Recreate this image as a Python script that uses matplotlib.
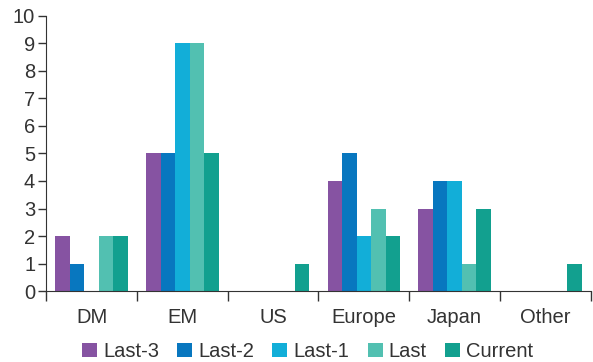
import numpy as np
import matplotlib.pyplot as plt

categories = ["DM", "EM", "US", "Europe", "Japan", "Other"]
series = ["Last-3", "Last-2", "Last-1", "Last", "Current"]
last_3 = [2, 5, 0, 4, 3, 0]
last_2 = [1, 5, 0, 5, 4, 0]
last_1 = [0, 9, 0, 2, 4, 0]
last = [2, 9, 0, 3, 1, 0]
current = [2, 5, 1, 2, 3, 1]
colores = ["#8653A2", "#0877BF", "#12AED8", "#52C0B1", "#12A08F"]

plt.rcParams['font.family'] = ['Liberation Sans', 'DejaVu Sans']
texto = "#333333"

fig = plt.figure(figsize=(5.93, 3.62), dpi=100)
ax = fig.add_axes([0.078, 0.196, 0.918, 0.76])

x = np.arange(len(categories))
ancho = 0.8 / len(series)
valores = [last_3, last_2, last_1, last, current]
for i, (nombre, v) in enumerate(zip(series, valores)):
    ax.bar(x - 0.4 + ancho * (i + 0.5), v, ancho, color=colores[i], label=nombre)

ax.set_xlim(-0.5, len(categories) - 0.5)
ax.set_ylim(0, 10)
ax.set_yticks(range(0, 11))
ax.set_xticks(x)
ax.set_xticklabels(categories)
ax.set_xticks(np.arange(-0.5, len(categories)), minor=True)
ax.tick_params(axis='x', which='major', length=0, pad=12, labelsize=14.5, colors=texto)
ax.tick_params(axis='x', which='minor', length=7, width=1, color="#333333")
ax.tick_params(axis='y', length=6, width=1, pad=2, labelsize=14.5, colors=texto)

for lado in ["top", "right"]:
    ax.spines[lado].set_visible(False)
ax.spines["left"].set_color("#333333")
ax.spines["bottom"].set_color("#333333")

ax.legend(loc="center", bbox_to_anchor=(0.48, -0.22), ncol=5, frameon=False,
          fontsize=14.5, handlelength=0.75, handleheight=0.75, handletextpad=0.3,
          columnspacing=0.9, labelcolor=texto, borderpad=0)

fig.savefig("out.png", dpi=100)
